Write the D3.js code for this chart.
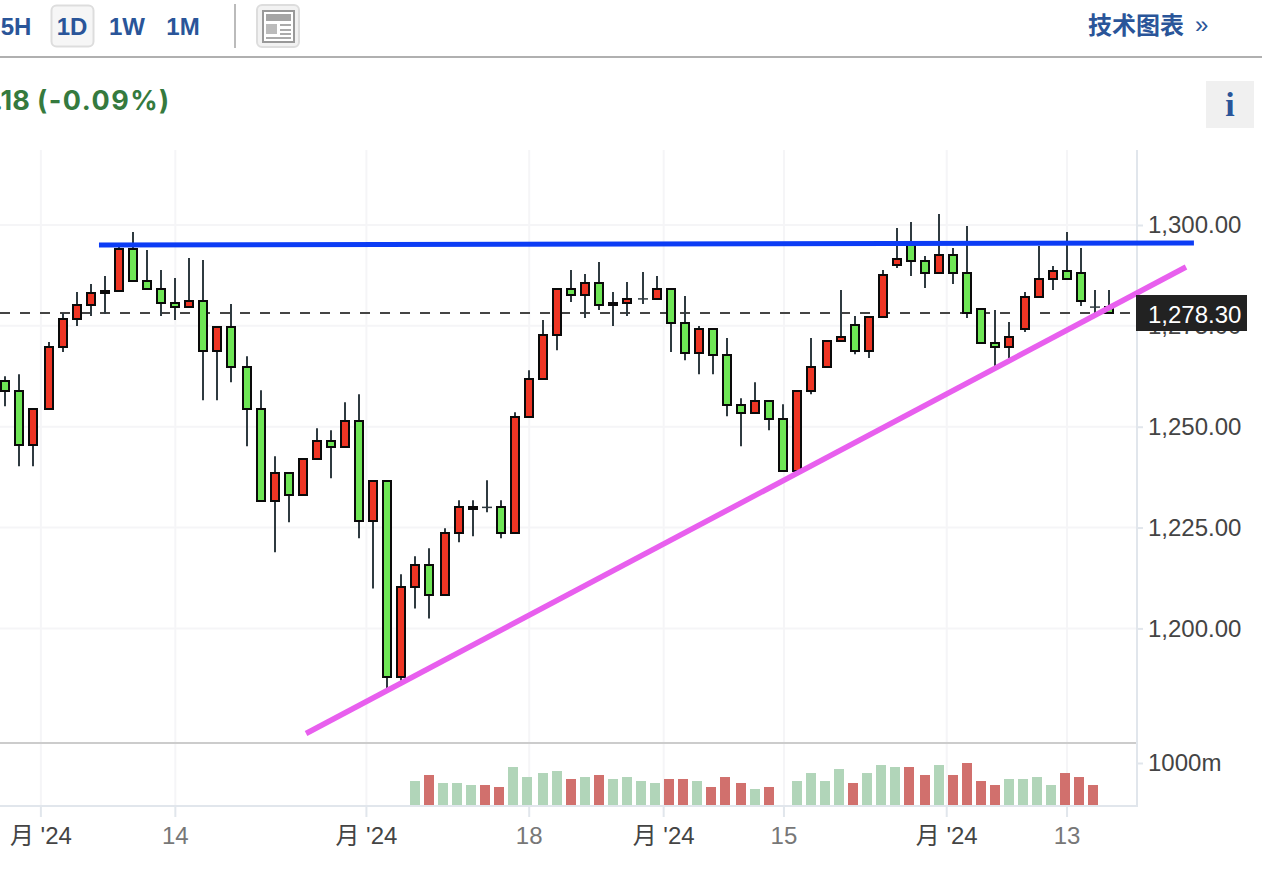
<!DOCTYPE html>
<html>
<head>
<meta charset="utf-8">
<script src="https://cdn.jsdelivr.net/npm/d3@7"></script>
<style>
  html, body { margin: 0; background: #fff; overflow: hidden; }
  text { font-family: "Liberation Sans", "Noto Sans CJK SC", sans-serif; }
</style>
</head>
<body>
<div id="chart"></div>
<script>
// candles, oldest first
const opens = [1261.29,1258.81,1245.41,1254.34,1269.73,1276.67,1280.15,1283.13,1283.62,1294.04,1286.10,1284.12,1280.65,1279.65,1281.14,1268.73,1274.69,1264.76,1254.34,1231.51,1238.46,1233.00,1241.94,1246.40,1244.91,1251.37,1226.55,1236.47,1187.84,1210.17,1215.63,1208.19,1223.57,1229.53,1230.05,1230.02,1223.57,1252.36,1261.79,1272.70,1284.12,1282.63,1285.61,1280.15,1280.65,1281.64,1281.64,1284.12,1275.68,1268.24,1274.19,1267.74,1255.33,1253.35,1256.33,1251.86,1238.96,1258.81,1264.76,1271.22,1275.19,1268.73,1277.17,1290.07,1295.04,1291.07,1288.09,1292.56,1288.09,1279.16,1270.72,1269.73,1274.19,1282.13,1286.60,1288.59,1288.09,1279.67,1279.65];
const closes = [1258.81,1245.41,1254.34,1269.73,1276.67,1280.15,1283.13,1283.62,1294.04,1286.10,1284.12,1280.65,1279.65,1281.14,1268.73,1274.69,1264.76,1254.34,1231.51,1238.46,1233.00,1241.94,1246.40,1244.91,1251.37,1226.55,1236.47,1187.84,1210.17,1215.63,1208.19,1223.57,1230.02,1230.02,1230.00,1223.57,1252.36,1261.79,1272.70,1284.12,1282.63,1285.61,1280.15,1280.65,1281.64,1281.68,1284.12,1275.68,1268.24,1274.19,1267.74,1255.33,1253.35,1256.33,1251.86,1238.96,1258.81,1264.76,1271.22,1272.21,1268.73,1277.17,1287.59,1291.56,1291.07,1288.09,1292.56,1288.09,1278.16,1270.72,1269.73,1272.21,1282.13,1286.60,1288.59,1286.60,1281.14,1279.65,1278.16];
const highs = [1262.53,1263.03,1254.34,1270.97,1278.16,1283.37,1285.36,1287.34,1294.79,1298.26,1293.80,1288.83,1286.85,1291.81,1291.32,1274.69,1280.40,1267.49,1259.06,1242.68,1238.46,1241.94,1249.63,1249.13,1256.08,1258.06,1236.47,1236.47,1213.40,1217.87,1219.85,1224.81,1231.76,1231.76,1236.72,1231.76,1253.60,1264.02,1276.43,1284.12,1288.83,1287.84,1290.82,1283.37,1285.86,1288.34,1287.34,1284.12,1282.38,1274.94,1274.19,1271.96,1257.07,1261.04,1256.33,1255.58,1258.81,1271.96,1271.22,1283.87,1277.42,1277.17,1288.83,1299.26,1300.74,1292.31,1302.73,1294.29,1299.75,1279.16,1278.91,1275.93,1283.37,1294.79,1289.83,1298.26,1294.29,1283.87,1283.87];
const lows = [1255.09,1240.20,1240.20,1254.34,1268.49,1274.94,1277.42,1277.92,1283.62,1286.10,1284.12,1277.42,1276.43,1279.65,1256.57,1256.57,1261.04,1245.16,1231.51,1218.86,1226.30,1233.00,1241.94,1237.22,1244.91,1222.33,1209.92,1185.11,1187.10,1204.96,1202.48,1208.19,1221.34,1222.83,1228.78,1222.33,1223.57,1252.36,1261.79,1268.98,1280.89,1276.92,1278.91,1274.94,1277.42,1280.40,1281.64,1268.49,1266.50,1263.03,1263.03,1252.60,1245.16,1253.35,1249.13,1238.96,1238.96,1258.06,1264.76,1271.22,1267.99,1267.00,1277.17,1289.33,1287.34,1284.37,1288.09,1285.36,1276.92,1270.72,1265.01,1267.00,1273.45,1282.13,1283.87,1286.60,1279.90,1278.16,1278.16];

// volume in millions, starts at candle 29 and has one empty session
const volumeStart = 29;
const volumes = [581,721,535,535,488,488,442,907,674,767,814,628,674,721,628,674,581,535,628,628,581,442,674,535,395,442,null,581,767,581,860,535,767,953,907,907,721,953,721,1000,581,488,628,628,674,488,767,674,488];

const priceTicks = [1200, 1225, 1250, 1275, 1300];
const volumeTicks = [1000];
const lastPrice = 1278.30;

const dateTicks = [2.5, 12, 25.5, 37, 46.5, 55, 66.5, 75];
const dateLabels = ["月 '24", "14", "月 '24", "18", "月 '24", "15", "月 '24", "13"];

// hand drawn lines: candle index, price
const resistanceLine = [[6.64, 1295.04], [84.0, 1295.53]];
const supportLine = [[21.27, 1173.94], [83.44, 1289.58]];

const rangeButtons = ["5H", "1D", "1W", "1M"];

// sessions where the chart's pixel snapping adds 2px
const candleSnaps = [3, 17, 31, 45, 58, 72];
const volumeSnaps = [3, 17, 38, 52, 65];

const width = 1262, height = 876;
const axisX = 1137, plotTop = 150, paneSplit = 743, plotBottom = 806;
const blue = '#2a5599';

const svg = d3.select('#chart').append('svg')
  .attr('width', width).attr('height', height)
  .style('display', 'block');

const xTime = d3.scaleLinear().domain([0, 78]).range([5, 1109]);
const xStep = d3.scaleLinear().domain([0, 78]).range([5, 1097]);
const xCandle = i => xStep(i) + 2 * d3.bisectRight(candleSnaps, i);
const xVolume = i => xStep(i) + 2 * d3.bisectRight(volumeSnaps, i);

const y = d3.scaleLinear().domain([1200, 1300]).range([628.4, 225]);
const yVol = d3.scaleLinear().domain([0, 1000]).range([plotBottom, 763]);

const candles = opens.map((o, i) => ({ i, o, c: closes[i], h: highs[i], l: lows[i] }));

// header
const header = svg.append('g');
const btnX = [16, 72, 127, 183];
header.append('rect').attr('x', 51.5).attr('y', 5.5).attr('width', 42).attr('height', 41).attr('rx', 5)
  .attr('fill', '#f6f6f6').attr('stroke', '#ddd').attr('stroke-width', 2);
header.selectAll('.range').data(rangeButtons).join('text')
  .attr('class', 'range')
  .attr('x', (d, i) => btnX[i]).attr('y', 35)
  .attr('text-anchor', 'middle').attr('font-size', 24).attr('font-weight', 700)
  .attr('fill', blue).text(d => d);
header.append('rect').attr('x', 234).attr('y', 4).attr('width', 2).attr('height', 44).attr('fill', '#bbb');

const icon = header.append('g');
icon.append('rect').attr('x', 257).attr('y', 5).attr('width', 42).attr('height', 42).attr('rx', 5)
  .attr('fill', '#f2f2f2').attr('stroke', '#ddd').attr('stroke-width', 2);
icon.append('rect').attr('x', 263).attr('y', 11).attr('width', 31).attr('height', 31)
  .attr('fill', '#fff').attr('stroke', '#999').attr('stroke-width', 2);
icon.append('rect').attr('x', 266).attr('y', 14).attr('width', 25).attr('height', 7).attr('fill', '#a5a5a5');
icon.append('rect').attr('x', 266).attr('y', 24).attr('width', 11).attr('height', 10).attr('fill', '#bbb');
[24, 29, 33].forEach(ly => icon.append('rect').attr('x', 280).attr('y', ly).attr('width', 11).attr('height', 2).attr('fill', '#aaa'));
icon.append('rect').attr('x', 266).attr('y', 37).attr('width', 25).attr('height', 2).attr('fill', '#aaa');

header.append('text').attr('x', 1088).attr('y', 34)
  .attr('font-size', 24).attr('font-weight', 700).attr('fill', blue)
  .text('技术图表');
header.append('text').attr('x', 1195).attr('y', 33)
  .attr('font-size', 24).attr('fill', blue).text('»');
header.append('rect').attr('x', 0).attr('y', 56).attr('width', width).attr('height', 2).attr('fill', '#b0b0b0');

header.append('text').attr('x', -6).attr('y', 110)
  .style('font-family', 'Inter, sans-serif')
  .attr('font-size', 27).attr('font-weight', 700).attr('fill', '#357a3e')
  .text('.18');
header.append('text').attr('x', 37).attr('y', 110)
  .style('font-family', 'Inter, sans-serif')
  .attr('font-size', 27).attr('font-weight', 700).attr('fill', '#357a3e')
  .attr('letter-spacing', 1.5).text('(-0.09%)');

header.append('rect').attr('x', 1206).attr('y', 81).attr('width', 48).attr('height', 47).attr('fill', '#f0f0f0');
header.append('text').attr('x', 1230).attr('y', 116).attr('text-anchor', 'middle')
  .style('font-family', '"Liberation Serif", serif').attr('font-size', 34).attr('font-weight', 700)
  .attr('fill', blue).text('i');

// grid
const grid = svg.append('g').attr('stroke', '#f5f5f7').attr('stroke-width', 2);
grid.selectAll('.vgrid').data(dateTicks).join('line')
  .attr('class', 'vgrid')
  .attr('x1', d => xTime(d) + 0.5).attr('x2', d => xTime(d) + 0.5)
  .attr('y1', plotTop).attr('y2', plotBottom);
grid.selectAll('.hgrid').data(priceTicks).join('line')
  .attr('class', 'hgrid')
  .attr('x1', 0).attr('x2', axisX)
  .attr('y1', d => y(d)).attr('y2', d => y(d));

// last price dashes sit behind the candles
svg.append('line')
  .attr('x1', 0).attr('x2', 1130)
  .attr('y1', Math.round(y(lastPrice))).attr('y2', Math.round(y(lastPrice)))
  .attr('stroke', '#444').attr('stroke-width', 2).attr('stroke-dasharray', '10 10');

// candles
const candleG = svg.append('g').selectAll('g').data(candles).join('g');
candleG.append('line')
  .attr('x1', d => xCandle(d.i)).attr('x2', d => xCandle(d.i))
  .attr('y1', d => y(d.h)).attr('y2', d => y(d.l))
  .attr('stroke', '#2f3a40').attr('stroke-width', 2);

const isFlat = d => Math.abs(y(d.o) - y(d.c)) < 1;
candleG.filter(d => isFlat(d)).append('line')
  .attr('x1', d => xCandle(d.i) - 5).attr('x2', d => xCandle(d.i) + 5)
  .attr('y1', d => y(d.c)).attr('y2', d => y(d.c))
  .attr('stroke', '#2f3a40').attr('stroke-width', 1.5);
candleG.filter(d => !isFlat(d)).append('rect')
  .attr('x', d => xCandle(d.i) - 4)
  .attr('width', 8)
  .attr('y', d => Math.round(y(Math.max(d.o, d.c))))
  .attr('height', d => Math.round(y(Math.min(d.o, d.c))) - Math.round(y(Math.max(d.o, d.c))))
  .attr('fill', d => d.c >= d.o ? '#ee3524' : '#6ee655')
  .attr('stroke', '#0a0a0a').attr('stroke-width', 2);

// volume pane
const volumeData = volumes.map((v, k) => ({ i: volumeStart + k, v })).filter(d => d.v !== null);
svg.append('g').selectAll('rect').data(volumeData).join('rect')
  .attr('x', d => xVolume(d.i) - 5)
  .attr('width', 10)
  .attr('y', d => yVol(d.v))
  .attr('height', d => yVol(0) - yVol(d.v))
  .attr('fill', d => closes[d.i] >= opens[d.i] ? '#b1d5b9' : '#d1706d');

svg.append('rect').attr('x', 0).attr('y', paneSplit - 1).attr('width', axisX).attr('height', 2).attr('fill', '#ccc');

// axes
function styleAxis(g) {
  g.select('.domain').remove();
  g.selectAll('.tick line').attr('stroke', '#e1e6ec').attr('stroke-width', 2);
  g.selectAll('.tick text').attr('font-family', '"Liberation Sans", "Noto Sans CJK SC", sans-serif');
}

const yAxis = svg.append('g').attr('transform', `translate(${axisX},0)`)
  .call(d3.axisRight(y).tickValues(priceTicks).tickSize(6).tickPadding(5).tickFormat(d3.format(',.2f')))
  .call(styleAxis);
yAxis.selectAll('.tick text').attr('font-size', 24).attr('fill', '#444');

const volAxis = svg.append('g').attr('transform', `translate(${axisX},0)`)
  .call(d3.axisRight(yVol).tickValues(volumeTicks).tickSize(6).tickPadding(5).tickFormat(d => d + 'm'))
  .call(styleAxis);
volAxis.selectAll('.tick text').attr('font-size', 24).attr('fill', '#444');

const xAxis = svg.append('g').attr('transform', `translate(0,${plotBottom})`)
  .call(d3.axisBottom(xTime).tickValues(dateTicks).tickSize(11).tickPadding(10)
    .tickFormat((d, i) => dateLabels[i]))
  .call(styleAxis);
xAxis.selectAll('.tick text')
  .attr('font-size', 24)
  .attr('fill', (d, i) => dateLabels[i].length > 2 ? '#444' : '#777');

svg.append('rect').attr('x', axisX - 1).attr('y', plotTop).attr('width', 2).attr('height', plotBottom - plotTop + 1).attr('fill', '#e1e6ec');
svg.append('rect').attr('x', 0).attr('y', plotBottom - 1).attr('width', axisX).attr('height', 2).attr('fill', '#e1e6ec');

// drawn lines
const trend = d3.line().x(d => xTime(d[0])).y(d => y(d[1]));
svg.append('path').attr('d', trend(supportLine))
  .attr('fill', 'none').attr('stroke', '#e85fee').attr('stroke-width', 5.5);
svg.append('path').attr('d', trend(resistanceLine))
  .attr('fill', 'none').attr('stroke', '#0c3cf5').attr('stroke-width', 5);

// last price tag
svg.append('rect').attr('x', 1136).attr('y', 295).attr('width', 111).attr('height', 36).attr('fill', '#222');
svg.append('text').attr('x', 1148).attr('y', 323)
  .attr('font-size', 24).attr('fill', '#fff').text(d3.format(',.2f')(lastPrice));
</script>
</body>
</html>
